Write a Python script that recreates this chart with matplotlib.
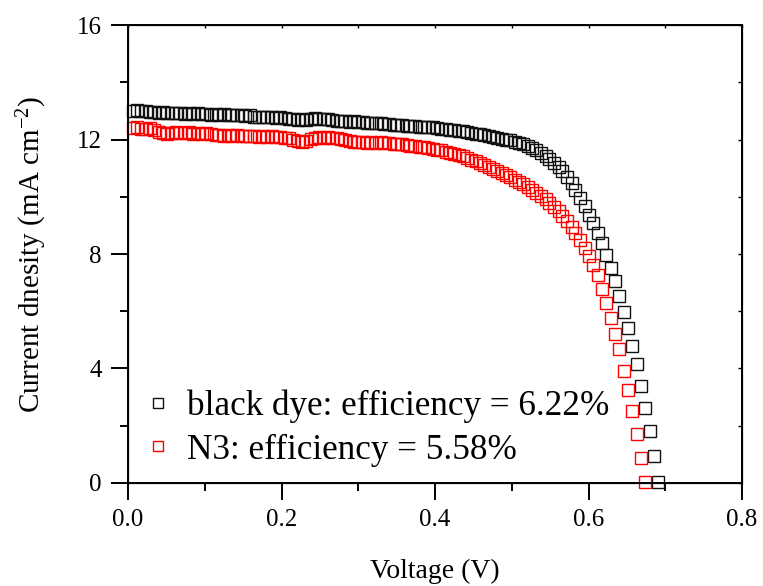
import matplotlib
matplotlib.use("Agg")
import matplotlib.pyplot as plt
from matplotlib.ticker import MultipleLocator

plt.rcParams["font.family"] = ["Liberation Serif", "DejaVu Serif"]
plt.rcParams["mathtext.fontset"] = "custom"
plt.rcParams["mathtext.rm"] = "Liberation Serif"
plt.rcParams["mathtext.it"] = "Liberation Serif:italic"

# voltage sweep (V)
voltage = [
    0.006, 0.012, 0.017, 0.023, 0.029, 0.034, 0.040, 0.046, 0.051, 0.057,
    0.063, 0.068, 0.074, 0.080, 0.085, 0.091, 0.097, 0.102, 0.108, 0.114,
    0.119, 0.125, 0.131, 0.136, 0.142, 0.148, 0.153, 0.159, 0.164, 0.170,
    0.176, 0.181, 0.187, 0.193, 0.198, 0.204, 0.210, 0.215, 0.221, 0.227,
    0.232, 0.238, 0.244, 0.249, 0.255, 0.261, 0.266, 0.272, 0.278, 0.283,
    0.289, 0.295, 0.300, 0.306, 0.312, 0.317, 0.323, 0.329, 0.334, 0.340,
    0.346, 0.351, 0.357, 0.363, 0.368, 0.374, 0.380, 0.385, 0.391, 0.397,
    0.402, 0.408, 0.414, 0.419, 0.425, 0.431, 0.436, 0.442, 0.447, 0.453,
    0.459, 0.464, 0.470, 0.476, 0.481, 0.487, 0.493, 0.498, 0.504, 0.510,
    0.515, 0.521, 0.527, 0.532, 0.538, 0.544, 0.549, 0.555, 0.561, 0.566,
    0.572, 0.578, 0.583, 0.589, 0.595, 0.600, 0.606, 0.612, 0.617, 0.623,
    0.629, 0.634, 0.640, 0.646, 0.651, 0.657, 0.663, 0.668, 0.674, 0.680,
    0.685, 0.691,
]

# current density (mA cm^-2)
j_black = [
    13.00, 13.02, 12.98, 13.01, 12.97, 12.95, 12.93, 12.95, 12.92, 12.94,
    12.91, 12.93, 12.90, 12.92, 12.89, 12.91, 12.88, 12.90, 12.87, 12.89,
    12.86, 12.88, 12.85, 12.87, 12.84, 12.86, 12.83, 12.85, 12.80, 12.78,
    12.80, 12.77, 12.79, 12.76, 12.78, 12.75, 12.72, 12.70, 12.69, 12.71,
    12.68, 12.72, 12.74, 12.73, 12.70, 12.71, 12.68, 12.66, 12.64, 12.65,
    12.62, 12.63, 12.60, 12.61, 12.58, 12.59, 12.56, 12.57, 12.54, 12.55,
    12.52, 12.50, 12.49, 12.48, 12.47, 12.46, 12.45, 12.44, 12.43, 12.42,
    12.40, 12.38, 12.36, 12.34, 12.32, 12.30, 12.28, 12.26, 12.24, 12.21,
    12.18, 12.15, 12.12, 12.09, 12.06, 12.03, 12.00, 11.97, 11.93, 11.88,
    11.83, 11.77, 11.70, 11.62, 11.53, 11.43, 11.32, 11.19, 11.05, 10.89,
    10.70, 10.48, 10.23, 9.96, 9.68, 9.38, 9.08, 8.75, 8.38, 7.98,
    7.52, 7.04, 6.53, 5.98, 5.43, 4.79, 4.16, 3.40, 2.63, 1.82,
    0.95, 0.05,
]

j_n3 = [
    12.40, 12.42, 12.38, 12.36, 12.39, 12.33, 12.25, 12.22, 12.20, 12.23,
    12.26, 12.24, 12.22, 12.25, 12.21, 12.23, 12.20, 12.22, 12.18, 12.15,
    12.17, 12.14, 12.16, 12.13, 12.15, 12.12, 12.14, 12.11, 12.13, 12.10,
    12.12, 12.09, 12.11, 12.08, 12.10, 12.07, 12.05, 11.98, 11.94, 11.92,
    11.95, 12.02, 12.07, 12.08, 12.06, 12.08, 12.05, 12.06, 12.03, 12.00,
    11.96, 11.93, 11.90, 11.92, 11.89, 11.91, 11.88, 11.90, 11.87, 11.88,
    11.85, 11.86, 11.83, 11.81, 11.79, 11.77, 11.75, 11.73, 11.71, 11.68,
    11.65, 11.62, 11.58, 11.54, 11.50, 11.46, 11.41, 11.36, 11.30, 11.24,
    11.17, 11.10, 11.03, 10.96, 10.89, 10.82, 10.75, 10.68, 10.60, 10.52,
    10.43, 10.34, 10.24, 10.14, 10.03, 9.91, 9.78, 9.64, 9.49, 9.33,
    9.15, 8.95, 8.73, 8.48, 8.22, 7.94, 7.62, 7.25, 6.78, 6.29,
    5.76, 5.21, 4.68, 3.92, 3.25, 2.52, 1.71, 0.87, 0.02,
]

labels = ["black dye: efficiency = 6.22%", "N3: efficiency = 5.58%"]

fig = plt.figure(figsize=(7.63, 5.86), dpi=100)
ax = fig.add_axes([0.1678, 0.1758, 0.8047, 0.7815])

ax.plot(voltage, j_black, linestyle="none", marker="s", markersize=8.3,
        markerfacecolor="none", markeredgecolor="#111111", markeredgewidth=1.0,
        label=labels[0], clip_on=False)
ax.plot(voltage[:len(j_n3)], j_n3, linestyle="none", marker="s", markersize=8.3,
        markerfacecolor="none", markeredgecolor="red", markeredgewidth=1.0,
        label=labels[1], clip_on=False)

ax.set_xlim(0, 0.8)
ax.set_ylim(0, 16)
ax.xaxis.set_major_locator(MultipleLocator(0.2))
ax.xaxis.set_minor_locator(MultipleLocator(0.1))
ax.yaxis.set_major_locator(MultipleLocator(4))
ax.yaxis.set_minor_locator(MultipleLocator(2))
ax.xaxis.set_major_formatter(plt.FormatStrFormatter("%.1f"))

for s in ax.spines.values():
    s.set_linewidth(1.4)
ax.tick_params(which="major", direction="out", length=12, width=1.4,
               labelsize=18, pad=7)
ax.tick_params(which="minor", direction="out", length=6, width=1.4)

# small inward ticks on the top and right edges
axr = ax.twinx()
axr.set_ylim(0, 16)
axr.yaxis.set_major_locator(MultipleLocator(2))
axr.tick_params(direction="in", length=3, width=1.0, labelright=False)
axt = ax.twiny()
axt.set_xlim(0, 0.8)
axt.xaxis.set_major_locator(MultipleLocator(0.1))
axt.tick_params(direction="in", length=2, width=1.0, labeltop=False)

ax.set_xlabel("Voltage (V)", fontsize=20, labelpad=20)
ax.set_ylabel("Current dnesity (mA cm$^{-2}$)", fontsize=21, labelpad=20)

ax.legend(loc="lower left", bbox_to_anchor=(-0.012, -0.018), frameon=False,
          fontsize=25.3, handlelength=0.7, handletextpad=0.5,
          labelspacing=0.3, markerscale=0.9, borderaxespad=0.3)

fig.savefig("out.png", dpi=100)
